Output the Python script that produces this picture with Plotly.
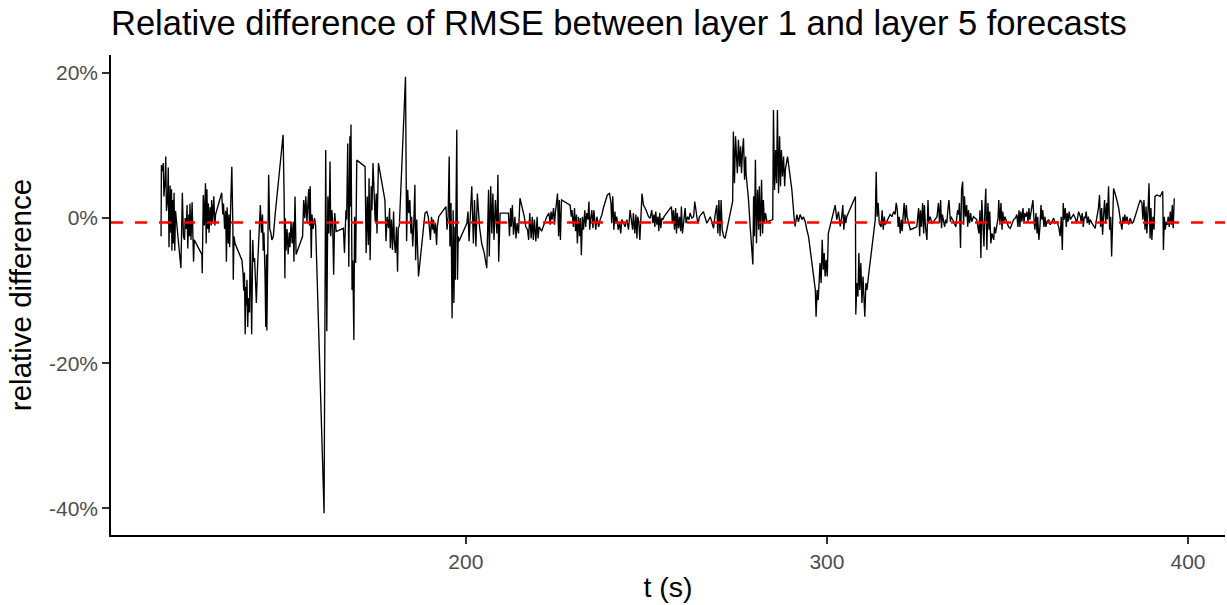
import plotly.graph_objects as go

# time (s)
t_s = [
    115.6, 115.7, 116.0, 116.2, 116.4, 116.7, 116.9, 117.1, 117.4, 117.6, 117.8, 118.1, 118.3, 118.5, 118.6,
    118.8, 119.0, 119.2, 119.4, 119.6, 119.9, 121.1, 121.5, 121.8, 122.1, 122.3, 122.6, 122.8, 123.0, 123.3,
    123.5, 123.6, 123.9, 124.2, 124.4, 124.6, 124.8, 126.9, 127.0, 127.3, 127.6, 127.9, 128.1, 128.3, 128.5,
    128.7, 128.9, 129.2, 129.5, 129.6, 129.9, 130.2, 130.5, 130.7, 132.4, 132.7, 132.9, 133.2, 133.5, 133.7,
    133.9, 134.2, 134.4, 134.6, 134.9, 135.2, 135.5, 135.6, 135.8, 136.1, 138.0, 138.3, 138.5, 138.7, 138.9,
    139.1, 139.2, 139.4, 139.6, 139.8, 140.1, 140.3, 140.5, 140.7, 141.0, 141.2, 141.5, 141.7, 142.0, 142.3,
    142.7, 143.1, 143.4, 143.7, 143.9, 144.1, 144.4, 144.6, 144.8, 144.9, 145.2, 145.4, 145.7, 146.0, 146.3,
    146.7, 147.2, 149.4, 149.7, 149.9, 150.0, 150.2, 150.5, 150.8, 151.1, 151.3, 151.6, 151.9, 152.2, 152.4,
    152.7, 153.0, 154.8, 155.1, 155.4, 155.7, 156.0, 156.2, 156.5, 156.7, 156.9, 157.2, 157.4, 157.7, 158.1,
    158.4, 160.75, 161.2, 161.5, 161.8, 162.1, 162.4, 162.6, 162.9, 163.1, 163.4, 163.7, 164.1, 166.1, 166.4,
    166.8, 167.0, 167.3, 167.6, 167.9, 168.0, 168.2, 168.5, 168.7, 169.0, 169.2, 169.5, 169.8, 172.1, 172.4,
    172.7, 173.0, 173.2, 173.5, 173.8, 174.0, 174.3, 174.6, 174.9, 175.2, 175.4, 175.8, 177.6, 177.9, 178.2,
    178.6, 178.9, 179.1, 179.4, 179.7, 180.0, 180.2, 180.5, 180.8, 181.1, 181.3, 181.6, 183.3, 183.6, 183.9,
    184.2, 184.5, 184.8, 185.0, 185.3, 185.6, 185.9, 186.1, 186.4, 186.9, 188.7, 189.2, 189.6, 189.9, 190.2,
    190.5, 190.8, 191.0, 191.3, 191.6, 191.9, 192.1, 192.5, 194.5, 194.8, 195.1, 195.4, 195.6, 195.9, 196.2,
    196.5, 196.7, 197.0, 197.1, 197.3, 197.5, 197.7, 197.9, 198.1, 200.3, 200.6, 200.9,
    201.65, 202.1, 202.4, 202.8, 203.2, 203.8, 204.4, 205.1, 205.8, 206.3, 206.5, 206.9, 207.2, 207.5, 207.8,
    208.2, 208.6, 208.9, 209.1, 209.5, 211.8, 212.1, 212.4, 212.6, 212.9, 213.2, 213.6, 213.9, 214.2, 214.6,
    215.0, 215.8, 216.2, 216.6, 217.1, 217.4, 217.7, 218.1, 218.4, 218.7, 219.0, 219.4, 219.75, 220.0, 220.3,
    221.0, 221.7, 222.4, 223.0, 223.4, 223.6, 223.9, 224.3, 224.55, 224.8, 225.1, 225.4, 225.7, 225.9, 226.2,
    226.5, 228.9, 229.2, 229.4, 229.8, 230.1, 230.4, 230.65, 230.9, 231.2, 231.5, 231.75, 232.0, 232.3, 232.6,
    232.95, 233.2, 233.5, 233.8, 234.1, 234.3, 234.6, 234.9, 235.2, 235.45, 235.7, 236.0, 236.3, 236.6, 236.8,
    237.2, 237.7, 238.1, 238.6, 239.2, 239.8, 240.2, 240.4, 240.7, 241.0, 241.3, 241.5, 241.8, 242.2, 242.6,
    242.9, 243.2, 243.7, 244.1, 244.6, 245.05, 245.5, 245.9, 246.2, 246.4, 246.8, 247.1, 247.4, 247.6, 247.9,
    248.2, 248.5, 248.8, 249.2, 249.95, 250.6, 251.05, 251.5, 251.8, 252.1, 252.35, 252.6, 252.9, 253.2, 253.45,
    253.7, 254.0, 254.3, 254.6, 254.9, 255.7, 256.6, 256.95, 257.2, 257.5, 257.8, 258.1, 258.35, 258.6, 258.9,
    259.2, 259.5, 259.7, 260.0, 260.3, 260.75, 261.0, 261.4, 261.8, 262.1, 262.6, 263.1, 263.4, 263.8, 264.1,
    264.35, 264.7,
    265.8, 266.75, 267.7, 268.6, 269.05, 269.5, 269.8, 270.1, 270.4, 270.7, 271.0, 271.4, 271.8, 272.3, 272.75,
    273.9, 274.1, 274.4, 274.7, 275.0, 275.2, 275.5, 275.8, 276.1, 276.35, 276.6, 276.9, 277.2, 277.5, 277.6,
    278.3, 278.75, 279.2, 279.5, 279.7, 279.95, 280.2, 280.5, 280.8, 281.1, 281.3, 281.6, 281.9, 282.2, 282.4,
    282.7, 283.0, 283.4, 285.0, 285.2, 285.5, 285.8, 286.05, 286.3, 286.6, 286.9, 287.15, 287.4, 287.7, 288.0,
    288.3, 288.5, 289.1, 290.3, 290.9, 291.2, 291.7, 292.1, 292.6, 293.1, 293.5, 294.0, 294.45, 294.9, 295.4,
    295.8, 296.3, 296.8, 297.0, 297.3, 297.6, 297.9, 298.1, 298.4, 298.7, 299.0, 299.25, 299.5, 299.8, 300.1,
    300.4, 302.3, 302.75, 303.2, 303.7, 304.1, 304.4, 304.7, 305.0, 305.25, 305.5, 307.9, 308.0, 308.3, 308.6,
    308.85, 309.1, 309.4, 309.7, 310.0, 310.2, 310.5, 310.8, 311.1, 311.5, 313.4, 313.65, 313.9, 314.2, 314.5,
    315.0, 315.3, 315.6, 315.9, 316.15, 316.6, 317.1, 317.5, 318.0, 318.5, 318.9, 319.2, 319.5, 319.75, 320.0,
    320.3, 320.6, 320.85, 321.1, 321.4, 321.7, 322.0, 322.2, 323.1, 324.9, 325.4, 325.7, 325.9, 326.2, 326.5,
    326.8, 327.0, 327.3, 327.7, 328.0, 328.2, 328.6, 329.1, 329.5, 330.0, 330.5, 330.9, 331.2, 331.5, 331.75,
    332.0, 332.3, 332.6, 332.9, 333.2, 333.5, 333.8, 334.2, 334.4, 335.1, 335.7, 336.2, 336.5, 336.7, 337.0,
    337.3, 337.6, 337.85, 338.1, 338.4, 338.7, 339.0, 339.2, 339.5, 339.8, 340.1, 340.6, 341.5, 342.1, 342.4,
    342.65, 342.9, 343.2, 343.5, 343.75, 344.0, 344.3, 344.6, 344.9, 345.1, 345.4, 345.7, 346.2, 346.4, 346.7,
    347.1, 347.4, 347.6, 347.9, 348.2, 348.5, 348.7, 349.0, 349.3, 349.85, 350.3, 350.8, 351.2, 351.7, 352.2,
    352.6, 352.9, 353.2, 353.45, 353.7, 354.0, 354.3, 354.6, 354.8, 355.1, 355.4, 355.7, 355.95, 356.2, 356.5,
    356.8, 357.05, 357.3, 357.6, 357.9, 358.2, 358.4, 358.7, 359.0, 359.3, 359.55, 359.8, 360.1, 360.4, 360.65,
    360.9, 361.4, 361.85, 362.3, 362.8, 363.2, 363.7, 364.2, 364.6, 364.9, 365.2, 365.45, 365.7, 366.0, 366.3,
    366.55, 366.8, 367.1, 367.4, 367.9, 368.3, 368.8, 369.2, 369.7, 370.2, 370.4, 370.7, 371.0, 371.3, 371.55,
    371.8, 372.1, 372.4, 372.65, 372.9, 373.4, 373.9, 374.3, 374.8, 375.2, 375.5, 375.8, 376.1, 376.35, 376.6,
    376.9, 377.2, 377.5, 377.7, 378.0, 378.3, 378.6, 378.85, 379.1, 379.4, 380.3, 380.8, 381.2, 381.7, 382.0,
    382.3, 382.5, 382.8, 383.1, 383.55, 384.0, 384.5, 384.9, 385.4, 385.9, 386.3, 386.8, 387.25, 387.5, 387.8,
    388.1, 388.4, 388.6, 388.9, 389.2, 389.5, 389.75, 390.0, 390.3, 390.6, 390.85, 391.4, 392.3, 393.0, 393.2,
    393.45, 393.7, 394.0, 394.3, 394.5, 394.8, 395.1, 395.4, 395.65, 395.9, 396.2,
]

# relative difference (%)
rel_diff_pct = [
    -2.5, 7.3, 6.5, 7.6, 3.0, 5.0, 8.5, 1.0, 2.5, 7.0, -4.0, 4.5, -2.0, 4.0, -4.5,
    2.5, -3.5, 3.5, -4.5, 1.0, -0.5, -6.9, 3.5, -2.5, -3.0, 0.0, -1.5, 1.8, -4.2, 0.5,
    -2.5, 2.0, -3.0, 2.2, -2.0, -6.0, -3.0, -5.0, -7.6, 3.2, -1.0, 4.8, -3.5, 4.0, -1.5,
    2.0, -2.0, 1.5, -1.0, 2.5, -0.5, 3.0, -1.0, 0.5, 3.5, 0.5, 2.0, -1.5, 1.0, -6.0,
    1.5, -3.5, 0.5, -4.0, 2.0, 7.1, -1.5, -8.5, -2.5, -3.5, -5.8, -7.5, -10.0, -7.5, -16.0,
    -9.5, -12.0, -8.5, -15.0, -11.0, -13.0, -1.6, -8.0, -16.0, -3.0, -6.0, -5.5, -9.5, -11.7, -7.0,
    -3.0, 1.8, -2.0, 0.5, -4.5, -2.0, -8.0, -15.0, -5.0, -15.5, -3.0, 6.0, -1.5, -2.0, -3.0,
    -2.5, 0.5, 11.5, 2.5, -8.3, 0.0, -4.5, -1.5, -5.0, -2.0, -4.0, -0.5, -3.5, -0.5, -6.0,
    3.0, -5.0, -2.5, 2.5, 0.0, 3.0, -0.5, 1.5, 4.0, -1.0, 4.4, -5.5, 0.5, -1.5, 0.0,
    -1.0, -40.7, 9.4, -15.6, 3.0, -2.1, 7.8, -2.5, 1.1, -0.2, -7.8, 0.7, -1.85, -1.4, -4.8,
    1.1, -0.2, 10.3, -6.7, 11.3, 1.6, 12.9, -9.9, -5.8, -16.8, 0.2, -6.2, 8.0, 7.1, -4.8,
    3.0, -3.7, 5.5, -5.8, 4.4, 1.1, 7.6, 3.4, -0.5, 3.4, -2.1, 7.6, 2.5, -3.2, 0.2,
    -1.4, 1.4, -4.15, -0.2, -4.4, 0.9, -3.0, -4.8, -1.2, -7.4, -1.4, -1.0, 19.5, -3.2, 3.9,
    0.7, 2.5, -2.1, 0.2, -3.9, -0.7, 4.6, -5.8, -0.2, -8.05, 0.7, 0.9, 0.2, -1.2, -3.0,
    0.2, -1.6, -0.2, -2.1, -0.7, -3.7, -1.2, 0.2, 1.6, -1.6, 0.2, 8.5, -3.9, 2.1, -13.8,
    1.1, -11.7, -1.2, -8.5, 0.7, 12.2, -8.5, -2.5, -3.2, -0.7, 0.9, -3.2,
    4.4, -3.5, 2.5, -3.9, 3.4, -1.2, -3.5, -4.8, -6.9, 3.9, -5.3, 4.4, -2.1, 3.4, -3.0,
    2.5, -2.1, 6.0, -6.0, 0.7, 0.7, -2.5, 1.4, -1.2, 1.8, -2.3, 0.2, -2.8, -0.7, -2.1,
    2.75, 1.1, 0.2, -1.2, -1.6, -3.0, 0.7, -2.8, 0.2, -3.0, -0.2, -3.2, 0.2, -2.8, -1.2,
    -1.8, -0.7, 0.2, 0.7, -0.9, 0.9, -0.2, 1.4, -0.9, 0.7, 2.3, 3.4, -2.5, 2.5, -3.0,
    2.5, 1.8, 0.2, 1.1, -1.2, 1.4, -1.8, 0.5, -3.5, 0.2, -2.5, 0.0, -5.1, 0.2, -1.6,
    1.1, -1.2, 0.7, -0.2, 2.3, -1.6, 0.0, 1.1, -1.4, 1.1, -0.2, -1.6, 0.2, -0.7, -1.2,
    -0.2, 0.5, 1.4, 2.3, 3.2, 3.4, 2.1, -0.7, 3.0, -1.6, 0.9, -0.7, 0.2, -1.6, -0.7,
    -2.1, -0.2, -0.7, -1.2, -0.2, -1.6, 1.1, -0.2, -1.6, 0.7, -2.1, 0.5, -2.8, 0.2, -0.5,
    -3.0, 0.2, 3.4, 1.8, 1.1, 0.2, 0.0, 1.1, -0.7, 0.5, -1.2, 0.9, -0.9, 0.2, -1.8,
    0.7, -1.4, 0.0, -0.2, 0.2, 0.7, 1.4, 1.6, -0.7, 1.1, -1.6, 1.4, -2.1, 0.7, -1.4,
    0.2, -1.8, 1.6, -2.1, -0.5, 1.4, -0.7, 0.2, -0.2, 0.7, 0.0, 0.2, 2.3, 0.5, -0.2,
    -0.7, 0.2,
    0.9, -0.7, 0.2, -1.4, 0.5, 1.8, -2.1, 2.5, -2.5, 2.5, -1.6, -2.5, -2.8, -1.6, -0.2,
    2.3, 11.95, 4.8, 11.3, 8.5, 6.2, 10.8, 7.1, 9.9, 6.2, 9.0, 11.0, 5.3, 8.5, 6.2,
    2.5, -1.15, -3.9, -6.4, 3.0, -2.5, 8.05, -3.45, 3.9, -1.6, 4.4, -2.5, 5.3, -2.1, 2.5,
    -0.7, 0.7, -0.5, -0.2, 14.9, 3.9, 9.4, 4.8, 14.9, 3.45, 11.3, 4.4, 9.4, 5.75, 8.5,
    4.4, 6.7, 8.5, 3.9, 0.2, -1.15, 0.5, -0.5, 0.5, -0.2, 0.2, -0.5, -1.6, -2.5, -4.4,
    -6.2, -8.05, -9.9, -13.6, -9.9, -11.3, -8.05, -6.2, -8.95, -3.0, -7.1, -4.8, -8.05, -5.75, -8.05,
    -2.1, 1.8, -0.2, 0.9, -1.15, 0.2, 1.8, -1.6, 0.5, -0.7, 0.2, 3.0, -13.3, -8.95, -10.8,
    -4.8, -9.9, -6.2, -11.7, -8.05, -9.9, -13.6, -8.95, -9.9, -8.05, -0.2, 6.4, 0.2, 2.1, -0.7,
    -1.2, 1.1, -1.6, 0.2, -0.9, -0.5, 0.0, 0.5, 0.2, 0.9, 0.5, 2.1, 1.1, -1.2, 0.2,
    -2.1, -0.2, -1.8, 0.2, 2.1, -0.5, 1.8, 0.2, -1.6, -1.2, 1.4, -2.5, 1.1, -1.2, 2.1,
    -2.1, 1.8, -1.2, -3.0, 2.5, -0.5, 0.2, -0.7, -0.5, -0.2, 0.2, 2.1, -0.7, 2.5, -1.4,
    0.5, -0.5, -1.2, -0.2, -0.7, 1.1, 2.5, -0.5, 0.2, -0.5, -1.2, 1.1, 0.5, 2.1, -4.1,
    3.9, 5.05, -0.9, 3.0, 0.2, 1.8, -1.2, 1.1, -0.7, 0.7, -0.5, 0.2, -0.2, -2.1, 1.1,
    -5.5, 2.5, -0.5, -3.9, 1.1, 4.1, -4.4, 2.1, -1.6, 0.9, -3.5, -2.1, -3.0, -1.2, -2.1,
    -0.7, 0.0, 2.5, -0.9, 2.1, -1.6, 0.9, -0.5, 0.2, -0.5, -1.2, -1.4, -0.9, -0.2, 0.0,
    0.5, -1.2, 1.1, -1.2, 0.9, -0.5, 1.4, -0.7, 0.7, 0.2, 0.9, -0.5, 1.4, -0.2, 0.7,
    1.6, 2.5, 0.2, -1.6, 0.7, -2.1, 0.2, -3.0, -1.2, 1.8, -0.2, 1.1, -1.2, 0.2, -1.2,
    -0.5, -0.2, -0.9, -0.5, 0.0, -0.7, -0.5, -1.2, -2.5, 0.2, -4.4, 2.1, -0.2, 1.4, -1.2,
    0.7, -0.5, 0.9, -0.2, 0.2, 0.5, 0.0, -0.7, 0.9, 0.2, -0.5, 0.7, -1.2, 0.2, 0.0,
    0.9, -0.7, 0.2, -0.9, -0.2, -0.7, -1.2, -1.4, 0.2, 1.4, 3.2, -1.2, 1.4, -2.3, 0.2,
    2.5, -0.7, 2.1, -0.2, 4.4, -1.6, 0.2, -5.3, -0.2, 4.1, 2.5, 1.4, 0.0, -1.6, 0.2,
    -0.7, 0.5, -0.5, 0.2, -0.9, 0.0, -0.7, -0.5, 0.5, 1.1, 1.8, 2.5, 2.1, -0.2, 2.5,
    -1.6, 1.6, -2.1, 0.7, 4.8, -2.8, 1.4, -3.0, 0.2, -1.6, 3.0, 3.2, 3.0, 3.7, -4.4,
    0.2, -1.6, -0.5, -0.9, 0.2, -1.2, 0.9, -0.9, 1.8, -1.4, 2.75,
]

mean_line_pct = -0.6

x_ticks = [200, 300, 400]
y_ticks = [-40, -20, 0, 20]
y_tick_text = ["-40%", "-20%", "0%", "20%"]

FONT = "Liberation Sans, Arial, Helvetica, sans-serif"

fig = go.Figure()
fig.add_trace(go.Scatter(
    x=t_s, y=rel_diff_pct, mode="lines",
    line=dict(color="black", width=1.35),
    showlegend=False, hoverinfo="x+y",
))

fig.add_shape(
    type="line", xref="paper", yref="y", x0=0, x1=1,
    y0=mean_line_pct, y1=mean_line_pct,
    line=dict(color="red", width=2.5, dash="12px,12px"),
    layer="above",
)

fig.update_layout(
    width=1227, height=605,
    margin=dict(l=111, r=2, t=55, b=70, autoexpand=False),
    paper_bgcolor="white", plot_bgcolor="white",
    font=dict(family=FONT, color="black"),
    title=dict(
        text="Relative difference of RMSE between layer 1 and layer 5 forecasts",
        x=111 / 1227, xref="container", xanchor="left",
        y=1 - 23 / 605, yref="container", yanchor="middle",
        font=dict(size=34.5, color="black", family=FONT),
    ),
)

fig.update_xaxes(
    range=[101.74, 410.25],
    tickvals=x_ticks,
    showgrid=False, zeroline=False,
    showline=True, linecolor="black", linewidth=1.6,
    ticks="outside", ticklen=7, tickwidth=1.5, tickcolor="#333333",
    tickfont=dict(size=21, color="#4d4d4d", family=FONT),
    title=dict(text="t (s)", font=dict(size=28.5, color="black", family=FONT), standoff=5),
    automargin=False,
)
fig.update_yaxes(
    range=[-43.7, 22.5],
    tickvals=y_ticks, ticktext=y_tick_text,
    showgrid=False, zeroline=False,
    showline=True, linecolor="black", linewidth=1.6,
    ticks="outside", ticklen=7, tickwidth=1.5, tickcolor="#333333",
    tickfont=dict(size=21, color="#4d4d4d", family=FONT),
    title=dict(text="relative difference", font=dict(size=29.5, color="black", family=FONT), standoff=9),
    automargin=False,
)

fig.write_html(
    "out.html",
    config={"displayModeBar": False},
    post_script="document.body.style.margin='0';document.body.style.overflow='hidden';",
)
